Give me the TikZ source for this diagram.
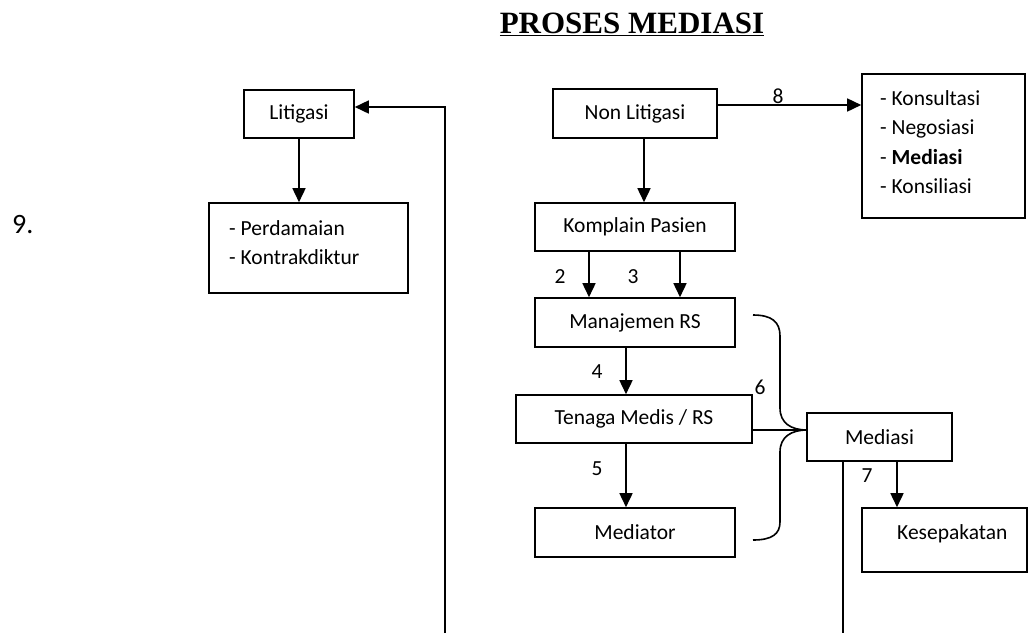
\documentclass[tikz,border=0pt]{standalone}
\usepackage{fontspec}
\setmainfont{Carlito}
\newfontfamily\titlefont{Liberation Serif}
\usetikzlibrary{arrows.meta}
\begin{document}
\begin{tikzpicture}[x=1pt,y=-1pt]
\tikzset{
  box/.style={draw, line width=1.6pt, inner sep=0pt, font=\fontsize{21.5}{26}\selectfont},
  txt/.style={inner sep=0pt, font=\fontsize{21.5}{26}\selectfont},
  conn/.style={line width=1.6pt},
  arr/.style={conn, -{Triangle[length=14pt,width=13pt]}},
}
\useasboundingbox (0,0) rectangle (1031,633);
% title
\node[inner sep=0pt, anchor=base, font=\titlefont\bfseries\fontsize{31}{36}\selectfont] (title) at (632,33) {\underline{PROSES MEDIASI}};
\node[inner sep=0pt, anchor=base west, font=\fontsize{28}{32}\selectfont] (nine) at (12,233) {9.};
% boxes
\node[box, minimum width=110pt, minimum height=48pt] (lit) at (299,114) {Litigasi};
\node[box, minimum width=199pt, minimum height=90pt] (perd) at (308.5,248) {};
\node[txt, anchor=base west] (perd1) at (229,235) {- Perdamaian};
\node[txt, anchor=base west] (perd2) at (229,264) {- Kontrakdiktur};
\node[box, minimum width=164pt, minimum height=49pt] (nonlit) at (635,113.5) {Non Litigasi};
\node[box, minimum width=163pt, minimum height=144pt] (opts) at (943.5,146) {};
\node[txt, anchor=base west] (o1) at (880,105) {- Konsultasi};
\node[txt, anchor=base west] (o2) at (880,134.5) {- Negosiasi};
\node[txt, anchor=base west] (o3) at (880,164) {- \textbf{Mediasi}};
\node[txt, anchor=base west] (o4) at (880,193) {- Konsiliasi};
\node[box, minimum width=200pt, minimum height=48pt] (kompl) at (635,227) {Komplain Pasien};
\node[box, minimum width=200pt, minimum height=49pt] (manaj) at (635,322.5) {Manajemen RS};
\node[box, minimum width=236pt, minimum height=48pt] (tenaga) at (634,419) {Tenaga Medis / RS};
\node[box, minimum width=200pt, minimum height=49pt] (medtor) at (635,532.5) {Mediator};
\node[box, minimum width=145pt, minimum height=48pt] (medi) at (879.5,437) {Mediasi};
\node[box, minimum width=165pt, minimum height=64pt] (kesep) at (944.5,540) {};
\node[txt, anchor=base west] (kesept) at (897,539) {Kesepakatan};
% labels
\node[txt, anchor=base] (l8) at (778,103) {8};
\node[txt, anchor=base] (l2) at (560,283) {2};
\node[txt, anchor=base] (l3) at (633,283) {3};
\node[txt, anchor=base] (l4) at (597,378) {4};
\node[txt, anchor=base] (l5) at (597,475) {5};
\node[txt, anchor=base] (l6) at (760,394) {6};
\node[txt, anchor=base] (l7) at (867,482) {7};
% coordinates
\coordinate (litbot) at (445,633);
\coordinate (litturn) at (445,107);
\coordinate (medbot) at (843,633);
\coordinate (tip) at (807,430);
% connectors
\draw[arr] (lit.south -| 299,0) -- (perd.north -| 299,0);
\draw[arr] (litbot) -- (litturn) -- (lit.east |- litturn);
\draw[arr] (nonlit.east |- 0,105) -- (opts.west |- 0,105);
\draw[arr] (nonlit.south -| 644,0) -- (kompl.north -| 644,0);
\draw[arr] (kompl.south -| 589,0) -- (manaj.north -| 589,0);
\draw[arr] (kompl.south -| 680,0) -- (manaj.north -| 680,0);
\draw[arr] (manaj.south -| 626,0) -- (tenaga.north -| 626,0);
\draw[arr] (tenaga.south -| 626,0) -- (medtor.north -| 626,0);
\draw[conn] (tenaga.east |- tip) -- (tip);
\draw[conn] (753,315) .. controls (772,315) and (780,322) .. (780,336) -- (780,408) .. controls (780,423) and (791,430) .. (tip);
\draw[conn] (tip) .. controls (791,430) and (780,437) .. (780,452) -- (780,522) .. controls (780,534) and (772,540) .. (753,540);
\draw[conn] (medi.south -| medbot) -- (medbot);
\draw[arr] (medi.south -| 897,0) -- (kesep.north -| 897,0);
\end{tikzpicture}
\end{document}
